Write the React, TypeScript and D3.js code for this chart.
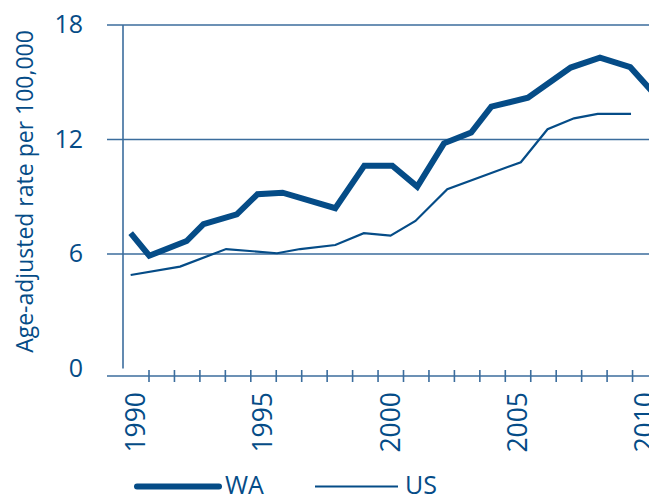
import React from "react";
import * as d3 from "d3";

const waYears = [1989.28, 1990.01, 1991.48, 1992.14, 1993.45, 1994.26, 1995.25, 1997.32, 1998.46, 1999.56, 2000.54, 2001.59, 2002.66, 2003.45, 2004.89, 2006.57, 2007.72, 2008.91, 2010.12];
const waValues = [7.09, 5.91, 6.68, 7.57, 8.08, 9.13, 9.21, 8.4, 10.63, 10.63, 9.53, 11.8, 12.36, 13.72, 14.19, 15.77, 16.29, 15.79, 13.99];
const usYears = [1989.28, 1991.22, 1993.03, 1995.03, 1995.94, 1997.32, 1998.44, 1999.49, 2000.47, 2001.72, 2004.61, 2005.66, 2006.7, 2007.63, 2008.94];
const usValues = [4.9, 5.34, 6.26, 6.04, 6.26, 6.47, 7.09, 6.96, 7.73, 9.39, 10.81, 12.54, 13.11, 13.34, 13.34];
const yTicks = [0, 6, 12, 18];
const xTickYears = d3.range(1990, 2011);
const xLabelYears = [1990, 1995, 2000, 2005, 2010];
const legendItems = ["WA", "US"];

const W = 649;
const H = 494;
const NAVY = "#054c87";
const GRID = "#3b6d9d";
const FONT = "'Open Sans', 'Noto Sans', sans-serif";

export default function App() {
  const x = d3.scaleLinear().domain([1990, 2010]).range([149, 658]);
  const y = d3.scaleLinear().domain([0, 18]).range([368.5, 25]);
  const line = d3
    .line<[number, number]>()
    .x((d) => x(d[0]))
    .y((d) => y(d[1]));
  const wa = waYears.map((t, i) => [t, waValues[i]] as [number, number]);
  const us = usYears.map((t, i) => [t, usValues[i]] as [number, number]);
  const axisY = 376;

  return (
    <svg
      width={W}
      height={H}
      style={{ position: "absolute", left: 0, top: 0, background: "#fff" }}
      fontFamily={FONT}
    >
      {yTicks
        .filter((v) => v > 0)
        .map((v) => (
          <line key={v} x1={107} x2={W} y1={y(v)} y2={y(v)} stroke={GRID} strokeWidth={1.6} />
        ))}
      <line x1={123} x2={123} y1={y(18)} y2={y(0)} stroke={GRID} strokeWidth={1.6} />
      <line x1={107} x2={W} y1={axisY} y2={axisY} stroke={GRID} strokeWidth={1.6} />
      {xTickYears.map((t) => (
        <line key={t} x1={x(t)} x2={x(t)} y1={axisY - 6} y2={axisY + 6} stroke={GRID} strokeWidth={1.6} />
      ))}
      {yTicks.map((v) => (
        <text key={v} x={83} y={y(v) + 8} textAnchor="end" fontSize={25} fill={NAVY}>
          {v}
        </text>
      ))}
      {xLabelYears.map((t) => (
        <text
          key={t}
          transform={`translate(${x(t) - 4},392) rotate(-90)`}
          textAnchor="end"
          fontSize={26.5}
          fill={NAVY}
        >
          {t}
        </text>
      ))}
      <text
        transform={`translate(33,191.5) rotate(-90)`}
        textAnchor="middle"
        fontSize={23}
        fill={NAVY}
      >
        Age-adjusted rate per 100,000
      </text>
      <path d={line(us) || ""} fill="none" stroke={NAVY} strokeWidth={2.2} strokeLinejoin="miter" />
      <path d={line(wa) || ""} fill="none" stroke={NAVY} strokeWidth={6} strokeLinejoin="miter" />
      <line x1={137} x2={219} y1={486.5} y2={486.5} stroke={NAVY} strokeWidth={6} strokeLinecap="round" />
      <text x={225} y={493.5} fontSize={25} fill={NAVY}>
        {legendItems[0]}
      </text>
      <line x1={315} x2={398} y1={486.5} y2={486.5} stroke={NAVY} strokeWidth={2.2} />
      <text x={405} y={493.5} fontSize={25} fill={NAVY}>
        {legendItems[1]}
      </text>
    </svg>
  );
}
